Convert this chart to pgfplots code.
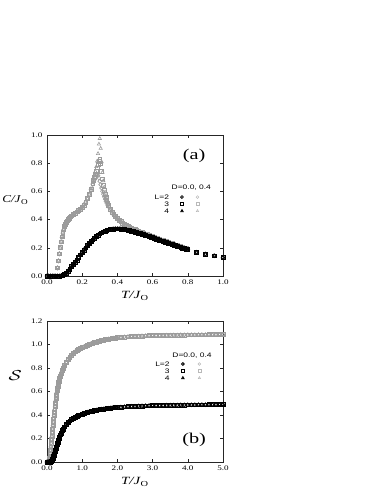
\documentclass[border=0pt]{standalone}
\usepackage{fontspec}
\setmainfont{Liberation Serif}
\newfontfamily\legfont{Liberation Sans}
\usepackage{pgfplots}
\usepackage{pgfplotstable}
\pgfplotsset{compat=1.18}
\definecolor{dgray}{RGB}{155,155,155}
\definecolor{lgray}{RGB}{185,185,185}

% specific heat, D=0.0 (all L coincide)
\pgfplotstableread{
T c
0.00 0.000
0.01 0.000
0.02 0.000
0.03 0.000
0.04 0.000
0.05 0.000
0.06 0.000
0.07 0.000
0.08 0.001
0.09 0.004
0.10 0.010
0.11 0.020
0.12 0.034
0.13 0.050
0.14 0.066
0.15 0.082
0.16 0.098
0.17 0.114
0.18 0.132
0.19 0.150
0.20 0.166
0.21 0.183
0.22 0.200
0.23 0.215
0.24 0.230
0.25 0.244
0.26 0.257
0.27 0.269
0.28 0.280
0.29 0.290
0.30 0.299
0.31 0.306
0.32 0.313
0.33 0.318
0.34 0.323
0.35 0.327
0.36 0.330
0.37 0.332
0.38 0.334
0.39 0.335
0.40 0.335
0.41 0.335
0.42 0.334
0.43 0.332
0.44 0.330
0.45 0.328
0.46 0.325
0.47 0.322
0.48 0.319
0.49 0.316
0.50 0.312
0.51 0.308
0.52 0.304
0.53 0.300
0.54 0.297
0.55 0.293
0.56 0.289
0.57 0.285
0.58 0.281
0.59 0.276
0.60 0.272
0.61 0.268
0.62 0.263
0.63 0.259
0.64 0.254
0.65 0.250
0.66 0.246
0.67 0.241
0.68 0.237
0.69 0.232
0.70 0.228
0.71 0.224
0.72 0.220
0.73 0.216
0.74 0.211
0.75 0.207
0.76 0.203
0.77 0.199
0.78 0.196
0.79 0.192
0.80 0.188
0.85 0.168
0.90 0.155
0.95 0.143
1.00 0.132
}\tabCzero

% specific heat, D=0.4, L=2,3,4
\pgfplotstableread{
T g2 g3 g4
0.060 0.055 0.058 0.060
0.065 0.105 0.108 0.110
0.070 0.155 0.158 0.160
0.075 0.200 0.203 0.205
0.080 0.240 0.243 0.245
0.085 0.275 0.278 0.280
0.090 0.305 0.308 0.310
0.095 0.330 0.332 0.333
0.100 0.350 0.351 0.352
0.105 0.366 0.367 0.368
0.110 0.379 0.380 0.381
0.115 0.390 0.391 0.392
0.120 0.399 0.400 0.401
0.125 0.407 0.408 0.409
0.130 0.414 0.415 0.416
0.135 0.420 0.421 0.422
0.140 0.426 0.427 0.428
0.150 0.436 0.437 0.438
0.160 0.445 0.446 0.447
0.170 0.454 0.455 0.456
0.180 0.463 0.464 0.465
0.190 0.474 0.475 0.476
0.200 0.487 0.488 0.489
0.210 0.503 0.504 0.505
0.220 0.523 0.524 0.525
0.230 0.548 0.549 0.550
0.240 0.578 0.580 0.582
0.250 0.612 0.616 0.620
0.260 0.648 0.655 0.662
0.265 0.666 0.676 0.686
0.270 0.683 0.698 0.712
0.275 0.700 0.720 0.742
0.280 0.712 0.743 0.775
0.285 0.718 0.768 0.815
0.290 0.712 0.792 0.868
0.295 0.695 0.815 0.935
0.300 0.672 0.828 0.975
0.305 0.648 0.800 0.905
0.310 0.624 0.745 0.810
0.315 0.601 0.690 0.735
0.320 0.580 0.645 0.675
0.325 0.562 0.610 0.630
0.330 0.545 0.580 0.595
0.335 0.529 0.556 0.567
0.340 0.515 0.535 0.543
0.345 0.502 0.516 0.522
0.350 0.490 0.500 0.505
0.360 0.468 0.474 0.477
0.370 0.449 0.453 0.455
0.380 0.433 0.436 0.437
0.390 0.419 0.421 0.422
0.400 0.406 0.408 0.409
0.410 0.395 0.396 0.397
0.420 0.385 0.386 0.386
0.430 0.376 0.376 0.376
0.440 0.368 0.368 0.368
0.450 0.360 0.360 0.360
0.460 0.353 0.353 0.353
0.470 0.347 0.347 0.347
0.480 0.341 0.341 0.341
0.490 0.335 0.335 0.335
0.500 0.330 0.330 0.330
0.510 0.325 0.325 0.325
0.520 0.319 0.319 0.319
0.530 0.314 0.314 0.314
0.540 0.309 0.309 0.309
0.550 0.304 0.304 0.304
0.560 0.299 0.299 0.299
0.570 0.294 0.294 0.294
0.580 0.289 0.289 0.289
0.590 0.285 0.285 0.285
0.600 0.280 0.280 0.280
0.610 0.275 0.275 0.275
0.620 0.271 0.271 0.271
0.630 0.266 0.266 0.266
0.640 0.262 0.262 0.262
0.650 0.257 0.257 0.257
0.660 0.253 0.253 0.253
0.670 0.248 0.248 0.248
0.680 0.244 0.244 0.244
0.690 0.239 0.239 0.239
0.700 0.235 0.235 0.235
0.710 0.230 0.230 0.230
0.720 0.226 0.226 0.226
0.730 0.221 0.221 0.221
0.740 0.217 0.217 0.217
0.750 0.212 0.212 0.212
0.760 0.208 0.208 0.208
0.770 0.203 0.203 0.203
0.780 0.199 0.199 0.199
0.790 0.194 0.194 0.194
0.800 0.190 0.190 0.190
0.850 0.168 0.168 0.168
0.900 0.155 0.155 0.155
0.950 0.143 0.143 0.143
1.000 0.132 0.132 0.132
}\tabCfour

% entropy, s0: D=0.0, s4: D=0.4
\pgfplotstableread{
T s0 s4
0.00 0.000 0.000
0.02 0.000 0.000
0.04 0.000 0.000
0.05 0.000 0.005
0.06 0.000 0.015
0.07 0.000 0.030
0.08 0.000 0.050
0.09 0.000 0.074
0.10 0.000 0.100
0.11 0.002 0.130
0.12 0.004 0.160
0.13 0.008 0.190
0.14 0.012 0.220
0.15 0.018 0.250
0.16 0.024 0.280
0.17 0.032 0.310
0.18 0.040 0.340
0.19 0.049 0.368
0.20 0.058 0.395
0.21 0.068 0.421
0.22 0.078 0.447
0.23 0.088 0.472
0.24 0.099 0.497
0.25 0.109 0.521
0.26 0.120 0.545
0.27 0.130 0.568
0.28 0.141 0.590
0.29 0.151 0.611
0.30 0.161 0.630
0.31 0.170 0.646
0.32 0.180 0.661
0.33 0.189 0.675
0.34 0.198 0.688
0.35 0.206 0.700
0.36 0.215 0.711
0.38 0.231 0.731
0.40 0.245 0.750
0.42 0.258 0.766
0.44 0.270 0.781
0.46 0.281 0.795
0.48 0.291 0.808
0.50 0.300 0.820
0.55 0.320 0.848
0.60 0.336 0.872
0.65 0.350 0.893
0.70 0.362 0.910
0.75 0.372 0.925
0.80 0.381 0.938
0.85 0.389 0.949
0.90 0.396 0.958
0.95 0.402 0.966
1.00 0.408 0.973
1.05 0.413 0.980
1.10 0.418 0.987
1.15 0.423 0.994
1.20 0.427 1.000
1.25 0.431 1.006
1.30 0.434 1.011
1.35 0.438 1.016
1.40 0.441 1.021
1.45 0.444 1.026
1.50 0.446 1.030
1.55 0.449 1.034
1.60 0.451 1.038
1.65 0.453 1.041
1.70 0.455 1.044
1.75 0.457 1.047
1.80 0.459 1.049
1.85 0.461 1.052
1.90 0.462 1.054
1.95 0.464 1.056
2.00 0.465 1.058
2.10 0.467 1.061
2.20 0.469 1.064
2.30 0.471 1.066
2.40 0.473 1.068
2.50 0.474 1.070
2.60 0.476 1.071
2.70 0.477 1.073
2.80 0.478 1.074
2.90 0.479 1.075
3.00 0.480 1.076
3.10 0.481 1.077
3.20 0.481 1.077
3.30 0.482 1.078
3.40 0.483 1.079
3.50 0.483 1.079
3.60 0.484 1.080
3.70 0.484 1.080
3.80 0.485 1.081
3.90 0.485 1.081
4.00 0.486 1.082
4.10 0.486 1.082
4.20 0.486 1.082
4.30 0.487 1.083
4.40 0.487 1.083
4.50 0.487 1.083
4.60 0.488 1.084
4.70 0.488 1.084
4.80 0.488 1.084
4.90 0.489 1.085
5.00 0.489 1.085
}\tabS

\pgfplotsset{
  panel/.style={
    scale only axis, width=176pt, height=141pt, anchor=south west,
    clip=false,
    tick align=inside, tick pos=both, major tick length=3pt,
    axis line style={black!85, line width=0.5pt},
    tick style={black!85, line width=0.5pt},
    tick label style={font=\fontsize{7}{8}\selectfont, xscale=1.3},
    scaled ticks=false,
    /pgf/number format/fixed,
    /pgf/number format/fixed zerofill,
    /pgf/number format/precision=1,
    /pgf/number format/assume math mode=true,
  },
  blk/.style={only marks, black, mark size=1.9pt, mark options={line width=0.6pt}},
  gry/.style={only marks, dgray, mark size=1.9pt, mark options={line width=0.6pt}},
  lblk/.style={only marks, black, mark size=1.4pt, mark options={line width=0.8pt}},
  lgry/.style={only marks, lgray, mark size=1.4pt, mark options={line width=0.5pt}},
}
\tikzset{
  leg/.style={font=\legfont\fontsize{6.5}{7}\selectfont, xscale=1.3, inner sep=0pt},
  axlab/.style={font=\fontsize{11}{12}\selectfont, xscale=1.35, inner sep=0pt},
  panlab/.style={font=\fontsize{15}{16}\selectfont, xscale=1.35, inner sep=0pt},
}

\begin{document}
\begin{tikzpicture}[x=1pt,y=1pt]
\path[use as bounding box] (0,0) rectangle (382,494);

% (a) specific heat
\begin{axis}[panel, at={(47pt,218pt)},
  xmin=0, xmax=1, ymin=0, ymax=1,
  xtick={0,0.2,0.4,0.6,0.8,1.0}, ytick={0,0.2,0.4,0.6,0.8,1.0}]
\addplot[gry, mark=o] table[x=T, y=g2] {\tabCfour};
\addplot[gry, mark=square] table[x=T, y=g3] {\tabCfour};
\addplot[gry, mark=triangle] table[x=T, y=g4] {\tabCfour};
\addplot[blk, mark=o] table[x=T, y=c] {\tabCzero};
\addplot[blk, mark=square] table[x=T, y=c] {\tabCzero};
\addplot[blk, mark=triangle] table[x=T, y=c] {\tabCzero};
% legend
\addplot[lblk, mark=o] coordinates {(0.767,0.560)};
\addplot[lblk, mark=square] coordinates {(0.767,0.511)};
\addplot[lblk, mark=triangle] coordinates {(0.767,0.461)};
\addplot[lgry, mark=o] coordinates {(0.855,0.560)};
\addplot[lgry, mark=square] coordinates {(0.855,0.511)};
\addplot[lgry, mark=triangle] coordinates {(0.855,0.461)};
\node[leg] at (axis cs:0.82,0.624) {D=0.0, 0.4};
\node[leg, anchor=east] at (axis cs:0.695,0.560) {L=2};
\node[leg, anchor=east] at (axis cs:0.695,0.511) {3};
\node[leg, anchor=east] at (axis cs:0.695,0.461) {4};
\node[panlab] at (axis cs:0.836,0.853) {(a)};
\node[axlab, anchor=east, font=\fontsize{10.5}{12}\selectfont, xscale=1.25/1.35] at (rel axis cs:-0.105,0.54) {\textit{C/J}\textsubscript{O}};
\node[axlab] at (rel axis cs:0.5,-0.14) {\textit{T/J}\textsubscript{O}};
\end{axis}

% (b) entropy
\begin{axis}[panel, at={(47pt,32pt)},
  xmin=0, xmax=5, ymin=0, ymax=1.2,
  xtick={0,1,2,3,4,5}, ytick={0,0.2,0.4,0.6,0.8,1.0,1.2}]
\addplot[gry, mark=o] table[x=T, y=s4] {\tabS};
\addplot[gry, mark=square] table[x=T, y=s4] {\tabS};
\addplot[gry, mark=triangle] table[x=T, y=s4] {\tabS};
\addplot[blk, mark=o] table[x=T, y=s0] {\tabS};
\addplot[blk, mark=square] table[x=T, y=s0] {\tabS};
\addplot[blk, mark=triangle] table[x=T, y=s0] {\tabS};
% legend
\addplot[lblk, mark=o] coordinates {(3.86,0.834)};
\addplot[lblk, mark=square] coordinates {(3.86,0.774)};
\addplot[lblk, mark=triangle] coordinates {(3.86,0.715)};
\addplot[lgry, mark=o] coordinates {(4.33,0.834)};
\addplot[lgry, mark=square] coordinates {(4.33,0.774)};
\addplot[lgry, mark=triangle] coordinates {(4.33,0.715)};
\node[leg] at (axis cs:4.12,0.902) {D=0.0, 0.4};
\node[leg, anchor=east] at (axis cs:3.49,0.834) {L=2};
\node[leg, anchor=east] at (axis cs:3.49,0.774) {3};
\node[leg, anchor=east] at (axis cs:3.49,0.715) {4};
\node[panlab] at (axis cs:4.18,0.187) {(b)};
\node[axlab, font=\fontsize{14}{15}\selectfont] at (rel axis cs:-0.18,0.61) {$\mathcal{S}$};
\node[axlab] at (rel axis cs:0.5,-0.14) {\textit{T/J}\textsubscript{O}};
\end{axis}
\end{tikzpicture}
\end{document}
